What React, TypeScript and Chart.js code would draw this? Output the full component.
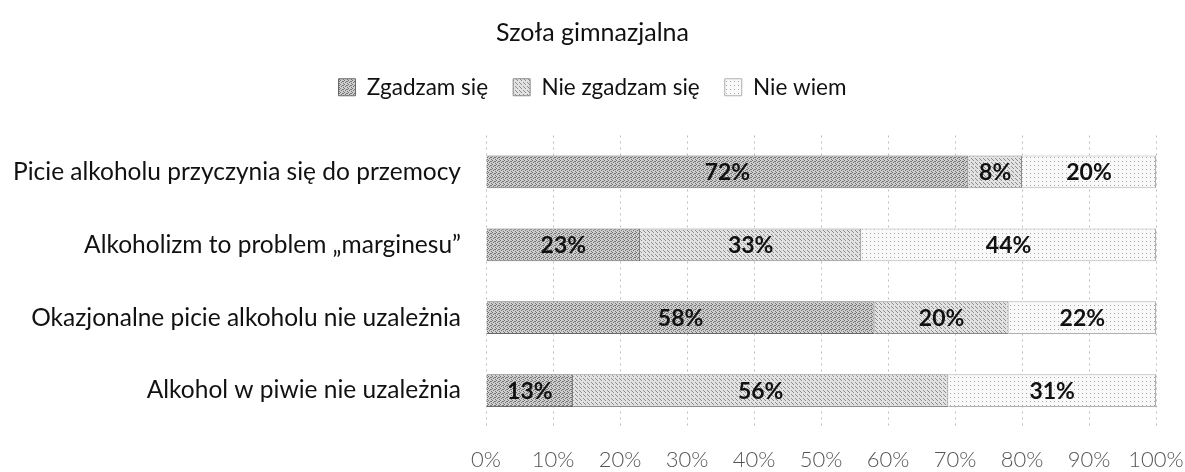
import React, { useEffect, useRef } from "react";
import { Chart, registerables } from "chart.js";

Chart.register(...registerables);

const chartTitle = "Szoła gimnazjalna";
const categories = [
  "Picie alkoholu przyczynia się do przemocy",
  "Alkoholizm to problem „marginesu”",
  "Okazjonalne picie alkoholu nie uzależnia",
  "Alkohol w piwie nie uzależnia",
];
const seriesNames = ["Zgadzam się", "Nie zgadzam się", "Nie wiem"];
const agree = [72, 23, 58, 13];
const disagree = [8, 33, 20, 56];
const dontKnow = [20, 44, 22, 31];
const xMin = 0;
const xMax = 100;
const xStep = 10;

const FONT = "Lato, 'Noto Sans', sans-serif";

function makePattern(
  ctx: CanvasRenderingContext2D,
  base: string,
  dot: string,
  cells: number[][]
): CanvasPattern | string {
  const c = document.createElement("canvas");
  c.width = 4;
  c.height = 4;
  const p = c.getContext("2d");
  if (!p) return base;
  p.fillStyle = base;
  p.fillRect(0, 0, 4, 4);
  p.fillStyle = dot;
  cells.forEach(([x, y]) => p.fillRect(x, y, 1, 1));
  return ctx.createPattern(c, "repeat") || base;
}

const dataLabelPlugin = {
  id: "segmentLabels",
  afterDatasetsDraw(chart: any) {
    const { ctx } = chart;
    ctx.save();
    ctx.font = `bold 23px ${FONT}`;
    ctx.fillStyle = "#111";
    ctx.textAlign = "center";
    ctx.textBaseline = "middle";
    chart.data.datasets.forEach((ds: any, di: number) => {
      const meta = chart.getDatasetMeta(di);
      meta.data.forEach((bar: any, i: number) => {
        const v = ds.data[i];
        const cx = (bar.x + bar.base) / 2;
        ctx.fillText(`${v}%`, cx, bar.y + 1);
      });
    });
    ctx.restore();
  },
};

const legendSpacing = {
  id: "legendSpacing",
  beforeInit(chart: any) {
    const origFit = chart.legend.fit;
    chart.legend.fit = function fit() {
      origFit.bind(chart.legend)();
      this.height += 27;
    };
  },
};

export default function App() {
  const ref = useRef<HTMLCanvasElement | null>(null);

  useEffect(() => {
    const canvas = ref.current;
    if (!canvas) return;
    const ctx = canvas.getContext("2d")!;
    const pAgree = makePattern(ctx, "#cecece", "#747474", [
      [0, 0], [2, 1], [1, 2], [3, 3], [3, 1],
    ]);
    const pDisagree = makePattern(ctx, "#e2e2e2", "#8c8c8c", [
      [1, 0], [3, 2], [0, 3],
    ]);
    const pDontKnow = makePattern(ctx, "#f9f9f9", "#a8a8a8", [[2, 1]]);

    const chart = new Chart(ctx, {
      type: "bar",
      data: {
        labels: categories,
        datasets: [
          {
            label: seriesNames[0],
            data: agree,
            backgroundColor: pAgree as any,
            borderColor: "#6a6a6a",
            borderWidth: 1,
          },
          {
            label: seriesNames[1],
            data: disagree,
            backgroundColor: pDisagree as any,
            borderColor: "#8a8a8a",
            borderWidth: 1,
          },
          {
            label: seriesNames[2],
            data: dontKnow,
            backgroundColor: pDontKnow as any,
            borderColor: "#b0b0b0",
            borderWidth: 1,
          },
        ],
      },
      plugins: [dataLabelPlugin, legendSpacing],
      options: {
        indexAxis: "y",
        animation: false,
        responsive: true,
        maintainAspectRatio: false,
        layout: { padding: { left: 0, right: 0, top: 0, bottom: 0 } },
        datasets: {
          bar: { barPercentage: 0.9, categoryPercentage: 0.5 },
        },
        plugins: {
          title: {
            display: true,
            text: chartTitle,
            color: "#111",
            font: { family: FONT, size: 25, weight: "normal", lineHeight: 1.2 },
            padding: { top: 18, bottom: 3 },
          },
          legend: {
            display: true,
            position: "top",
            labels: {
              color: "#111",
              font: { family: FONT, size: 22.5 },
              boxWidth: 17,
              boxHeight: 17,
              padding: 25,
            },
          },
          tooltip: { enabled: false },
        },
        scales: {
          x: {
            stacked: true,
            min: xMin,
            max: xMax,
            border: { display: false, dash: [2, 4] },
            grid: {
              color: "#bdbdbd",
              drawTicks: false,
              lineWidth: 1,
            },
            ticks: {
              stepSize: xStep,
              color: "#555",
              padding: 20,
              maxRotation: 0,
              font: { family: FONT, size: 22, weight: "300" },
              callback: (v: any) => `${v}%`,
            },
            afterFit: (scale: any) => {
              scale.paddingLeft = 0;
              scale.paddingRight = 29;
              scale.height = 45;
            },
          },
          y: {
            stacked: true,
            border: { display: false },
            grid: { display: false, drawTicks: false },
            ticks: {
              color: "#111",
              padding: 25,
              font: { family: FONT, size: 24.5 },
            },
            afterFit: (scale: any) => {
              scale.width = 486;
              scale.paddingTop = 0;
              scale.paddingBottom = 0;
            },
          },
        },
      },
    });
    return () => chart.destroy();
  }, []);

  return (
    <div style={{ position: "absolute", left: 0, top: 0, width: 1185, height: 472, background: "#fff" }}>
      <canvas ref={ref} />
    </div>
  );
}
